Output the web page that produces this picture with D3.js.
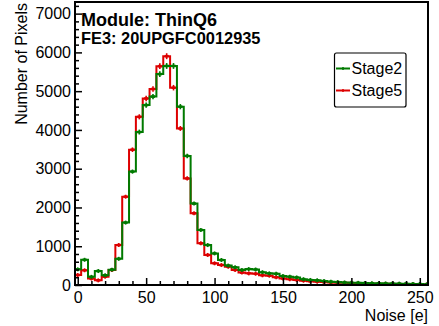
<!DOCTYPE html>
<html><head><meta charset="utf-8">
<script src="https://cdn.jsdelivr.net/npm/d3@7"></script>
<style>body{margin:0;background:#fff}svg{display:block;font-family:"Liberation Sans",Arial,Helvetica,sans-serif}</style>
</head><body><svg id="c" width="439" height="326"></svg>
<script>
// ---- data ----
const noiseBins = [0,5,10,15,20,25,30,35,40,45,50,55,60,65,70,75,80,85,90,95,100,105,110,115,120,125,130,135,140,145,150,155,160,165,170,175,180,185,190,195,200,205,210,215,220,225,230,235,240,245,250,255];
const stage2 = [404,650,210,360,250,395,675,1610,2925,3945,4640,4860,5440,5650,5650,4600,3330,2100,1420,1030,815,645,500,455,390,410,400,330,300,290,230,215,195,150,130,120,100,85,75,65,60,55,50,45,42,40,38,35,32,28,25,15];
const stage5 = [258,380,165,120,215,387,1031,2277,3490,4338,4811,5055,5644,5902,5090,4038,2750,1850,1075,775,560,515,470,390,320,300,290,250,240,200,170,150,130,110,95,85,75,65,60,55,50,45,40,35,32,30,28,25,22,20,15,10];
const seriesNames = ["Stage2","Stage5"];
const seriesColors = ["#007a00","#dd0000"];
const binWidth = 5;
const xTicks = [0,50,100,150,200,250];
const xMinorTicks = [10,20,30,40,60,70,80,90,110,120,130,140,160,170,180,190,210,220,230,240];
const yTicks = [0,1000,2000,3000,4000,5000,6000,7000];
const yMinorTicks = [200,400,600,800,1200,1400,1600,1800,2200,2400,2600,2800,3200,3400,3600,3800,4200,4400,4600,4800,5200,5400,5600,5800,6200,6400,6600,6800,7200];
const xTitle = "Noise [e]";
const yTitle = "Number of Pixels";
const label1 = "Module: ThinQ6";
const label2 = "FE3: 20UPGFC0012935";

// ---- layout ----
const L = 75, R = 428, T = 2, B = 285;
const svg = d3.select("#c");
const x = d3.scaleLinear().domain([-2, 256]).range([L, R]);
const y = d3.scaleLinear().domain([0, 7300]).range([B, T]);

svg.append("clipPath").attr("id","clip").append("rect")
  .attr("x", L).attr("y", T).attr("width", R - L).attr("height", B - T);

const plot = svg.append("g").attr("clip-path","url(#clip)");

function histPath(vals){
  const p = d3.path();
  p.moveTo(x(noiseBins[0] - binWidth/2), y(0));
  noiseBins.forEach((c,i)=>{
    p.lineTo(x(c - binWidth/2), y(vals[i]));
    p.lineTo(x(c + binWidth/2), y(vals[i]));
  });
  p.lineTo(x(noiseBins[noiseBins.length-1] + binWidth/2), y(0));
  return p.toString();
}

[stage5, stage2].forEach((vals, k) => {
  const col = k === 0 ? seriesColors[1] : seriesColors[0];
  plot.append("path").attr("d", histPath(vals))
    .attr("fill","none").attr("stroke", col).attr("stroke-width", 2)
    .attr("stroke-linejoin","miter");
  const g = plot.append("g");
  g.selectAll("line.eb").data(noiseBins).join("line")
    .attr("x1", c => x(c)).attr("x2", c => x(c))
    .attr("y1", (c,i) => Math.min(y(vals[i] + Math.sqrt(vals[i])), y(vals[i]) - 2))
    .attr("y2", (c,i) => Math.max(y(vals[i] - Math.sqrt(vals[i])), y(vals[i]) + 2))
    .attr("stroke", col).attr("stroke-width", 1.6);
  g.selectAll("line.mk").data(noiseBins).join("line")
    .attr("x1", c => x(c) - 2).attr("x2", c => x(c) + 2)
    .attr("y1", (c,i) => y(vals[i])).attr("y2", (c,i) => y(vals[i]))
    .attr("stroke", col).attr("stroke-width", 2.6);
});

// ---- axes ----
const fs = 16;
svg.append("g").attr("transform", `translate(${L},0)`)
  .call(d3.axisLeft(y).tickValues(yTicks).tickSize(-7).tickPadding(4).tickFormat(d3.format("d")));
svg.append("g").attr("transform", `translate(${L},0)`)
  .call(d3.axisLeft(y).tickValues(yMinorTicks).tickSize(-4).tickFormat(""));
svg.append("g").attr("transform", `translate(0,${B})`)
  .call(d3.axisBottom(x).tickValues(xTicks).tickSize(-7).tickPadding(7).tickFormat(d3.format("d")));
svg.append("g").attr("transform", `translate(0,${B})`)
  .call(d3.axisBottom(x).tickValues(xMinorTicks).tickSize(-4).tickFormat(""));
svg.selectAll(".domain").remove();
svg.selectAll(".tick line").attr("stroke","#000").attr("stroke-width",1.5);
svg.selectAll(".tick text").attr("font-size", fs).attr("fill","#000")
  .attr("font-family", '"Liberation Sans",Arial,sans-serif');

// frame
svg.append("rect").attr("x", L).attr("y", T).attr("width", R - L).attr("height", B - T)
  .attr("fill","none").attr("stroke","#000").attr("stroke-width",2);

// titles
svg.append("text").attr("x", R).attr("y", 321).attr("text-anchor","end")
  .attr("font-size", fs).text(xTitle);
svg.append("text").attr("transform", `translate(27,3) rotate(-90)`)
  .attr("text-anchor","end").attr("font-size", fs).text(yTitle);

svg.append("text").attr("x", 81).attr("y", 25.5).attr("font-weight","bold")
  .attr("font-size", 18).text(label1);
svg.append("text").attr("x", 81).attr("y", 43.5).attr("font-weight","bold")
  .attr("font-size", 16.4).text(label2);

// legend
const lg = svg.append("g");
lg.append("rect").attr("x", 334.5).attr("y", 53).attr("width", 71.5).attr("height", 54)
  .attr("rx", 2).attr("fill","#fff").attr("stroke","#000").attr("stroke-width",1.2);
seriesNames.forEach((n,i) => {
  const yy = 68.5 + i * 22;
  lg.append("line").attr("x1", 336).attr("x2", 350).attr("y1", yy).attr("y2", yy)
    .attr("stroke", seriesColors[i]).attr("stroke-width", 2);
  lg.append("line").attr("x1", 343).attr("x2", 343).attr("y1", yy - 1.5).attr("y2", yy + 1.5)
    .attr("stroke", seriesColors[i]).attr("stroke-width", 1.5);
  lg.append("text").attr("x", 351.5).attr("y", yy + 5.8).attr("font-size", 16).text(n);
});
</script></body></html>
